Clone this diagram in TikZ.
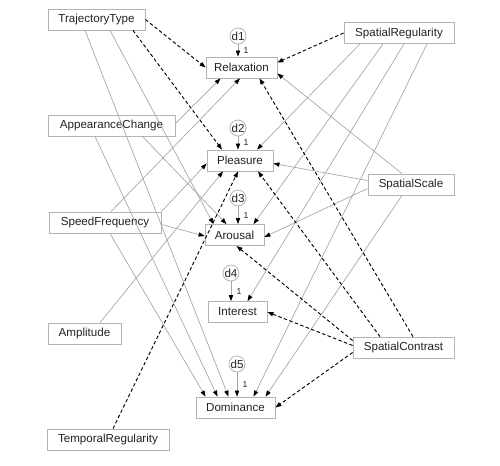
\documentclass[tikz,border=0pt]{standalone}
\usepackage{fontspec}
\setmainfont{Liberation Sans}
\usetikzlibrary{arrows.meta,calc}
\definecolor{boxgray}{HTML}{B4B4B4}
\definecolor{linegray}{HTML}{A4A4A4}
\definecolor{txt}{HTML}{222222}
\begin{document}
\begin{tikzpicture}[x=0.75pt,y=-0.75pt,
  var/.style={draw=boxgray, line width=0.6pt, minimum height=15.75pt, inner sep=0pt, font=\fontsize{8.7}{10}\selectfont, text=txt},
  err/.style={circle, draw=boxgray, line width=0.6pt, minimum size=12pt, inner sep=0pt, font=\fontsize{8.7}{10}\selectfont, text=txt},
  one/.style={font=\fontsize{6.5}{7}\selectfont, text=txt, inner sep=1pt},
  reg/.style={draw=linegray, line width=0.5pt, -{Triangle[length=4.5pt,width=3.2pt,color=black]}},
  cor/.style={draw=black, line width=0.7pt, dash pattern=on 2.6pt off 1.8pt, -{Triangle[length=4.5pt,width=3.2pt,color=black]}},
  fix/.style={draw=linegray, line width=0.5pt, -{Triangle[length=4.5pt,width=3.2pt,color=black]}}]
\useasboundingbox (0,0) rectangle (500,465);

% observed variables
\node[var, minimum width=72.75pt] (tt)  at (96.5,19.5)  {TrajectoryType};
\node[var, minimum width=82.5pt]  (sr)  at (399,33)     {SpatialRegularity};
\node[var, minimum width=53.25pt] (rel) at (241.5,67.5) {Relaxation};
\node[var, minimum width=95.25pt] (ac)  at (111.5,125.5){AppearanceChange};
\node[var, minimum width=49.5pt]  (ple) at (240,160.5)  {Pleasure};
\node[var, minimum width=64.5pt]  (ss)  at (411,184.5)  {SpatialScale};
\node[var, minimum width=84pt]    (sf)  at (105,222.5)  {SpeedFrequency};
\node[var, minimum width=44.25pt] (aro) at (234.5,235)  {Arousal};
\node[var, minimum width=44.25pt] (int) at (237.5,312)  {Interest};
\node[var, minimum width=54.75pt] (amp) at (84.5,333.5) {Amplitude};
\node[var, minimum width=75.75pt] (sc)  at (403.5,347.5){SpatialContrast};
\node[var, minimum width=59.25pt] (dom) at (235.5,407.5){Dominance};
\node[var, minimum width=91.5pt]  (trg) at (108,439.5)  {TemporalRegularity};

% disturbances
\node[err] (d1) at (238,36)  {d1};
\node[err] (d2) at (238,128) {d2};
\node[err] (d3) at (238,198) {d3};
\node[err] (d4) at (231,273) {d4};
\node[err] (d5) at (237,364) {d5};

\draw[fix] (d1) -- (d1 |- rel.north) node[one, pos=0.5, right=3pt] (l1) {1};
\draw[fix] (d2) -- (d2 |- ple.north) node[one, pos=0.5, right=3pt] (l2) {1};
\draw[fix] (d3) -- (d3 |- aro.north) node[one, pos=0.5, right=3pt] (l3) {1};
\draw[fix] (d4) -- (d4 |- int.north) node[one, pos=0.5, right=3pt] (l4) {1};
\draw[fix] (d5) -- (d5 |- dom.north) node[one, pos=0.5, right=3pt] (l5) {1};

% TrajectoryType
\draw[cor] (tt.east) -- (rel.west);
\draw[cor] ($(tt.south)+(36.5,0)$) -- ($(ple.north)+(-18,0)$);
\draw[reg] ($(tt.south)+(13.5,0)$) -- ($(aro.north)+(-21,0)$);
\draw[reg] ($(tt.south)+(-11.5,0)$) -- ($(dom.north)+(-7,0)$);

% SpatialRegularity
\draw[cor] (sr.west) -- ($(rel.east)+(0,-5)$);
\draw[reg] ($(sr.south)+(-39,0)$) -- ($(ple.north)+(17,0)$);
\draw[reg] ($(sr.south)+(-16,0)$) -- ($(aro.north)+(19,0)$);
\draw[reg] ($(sr.south)+(5,0)$) -- ($(int.north)+(10,0)$);
\draw[reg] ($(sr.south)+(28,0)$) -- ($(dom.north)+(18,0)$);

% AppearanceChange
\draw[reg] ($(ac.east)+(0,-2)$) -- ($(rel.south)+(-21,0)$);
\draw[reg] ($(ac.south)+(31,0)$) -- ($(aro.north)+(-8,0)$);
\draw[reg] ($(ac.south)+(-16.5,0)$) -- ($(dom.north)+(-18,0)$);

% SpeedFrequency
\draw[reg] ($(sf.north)+(6,0)$) -- ($(rel.south)+(-1.5,0)$);
\draw[reg] (sf.north east) -- ($(ple.west)+(0,3)$);
\draw[reg] ($(sf.east)+(0,2)$) -- ($(aro.west)+(0,1)$);
\draw[reg] ($(sf.south)+(5,0)$) -- ($(dom.north)+(-30,0)$);

% Amplitude, TemporalRegularity
\draw[reg] ($(amp.north)+(15.5,0)$) -- ($(ple.south)+(-17,0)$);
\draw[cor] ($(trg.north)+(5,0)$) -- ($(ple.south)+(-2,0)$);

% SpatialScale
\draw[reg] ($(ss.north)+(-9,0)$) -- ($(rel.east)+(0,6)$);
\draw[reg] ($(ss.west)+(0,-4)$) -- ($(ple.east)+(0,3)$);
\draw[reg] ($(ss.west)+(0,4)$) -- ($(aro.east)+(0,2)$);
\draw[reg] ($(ss.south)+(-9,0)$) -- ($(dom.north)+(30,0)$);

% SpatialContrast
\draw[cor] ($(sc.north)+(9.5,0)$) -- ($(rel.south)+(18,0)$);
\draw[cor] ($(sc.north)+(-23.5,0)$) -- ($(ple.south)+(18,0)$);
\draw[cor] ($(sc.west)+(0,-7)$) -- ($(aro.south)+(2,0)$);
\draw[cor] ($(sc.west)+(0,-2)$) -- (int.east);
\draw[cor] ($(sc.west)+(0,5)$) -- (dom.east);
\end{tikzpicture}
\end{document}
